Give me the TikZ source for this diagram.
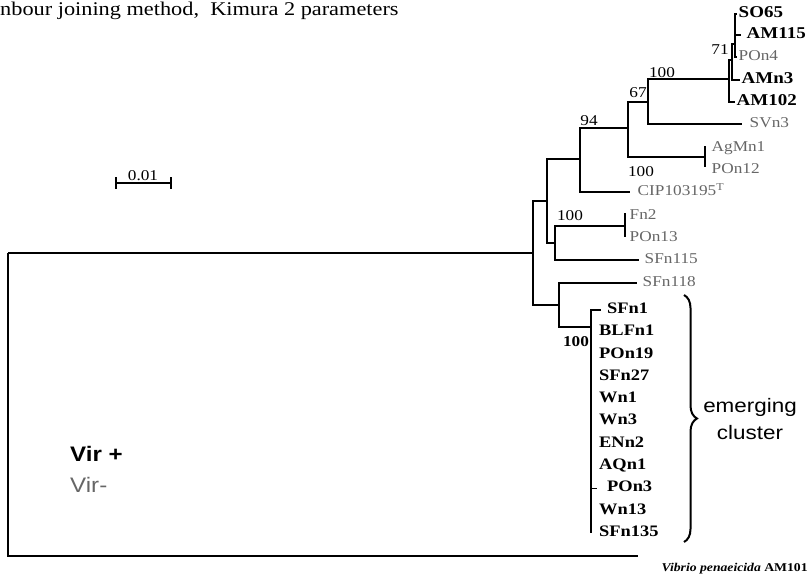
\documentclass[tikz,border=0pt]{standalone}
\usepackage{fontspec}
\setmainfont{Liberation Serif}[FakeStretch=1.15]
\setsansfont{Liberation Sans}[FakeStretch=1.15]
\usetikzlibrary{decorations.pathreplacing}
\colorlet{virneg}{black!60}

\begin{document}
\begin{tikzpicture}[x=1pt,y=-1pt,
  br/.style={line width=1.5pt},
  leaf/.style={anchor=west,inner sep=1.5pt,text height=0.68em,text depth=0pt,font=\fontsize{15}{17}\selectfont,text=virneg},
  vpos/.style={leaf,text=black,font=\fontsize{16}{18}\selectfont\bfseries},
  vtop/.style={vpos,font=\fontsize{16.5}{18}\selectfont\bfseries},
  boot/.style={inner sep=0pt,font=\fontsize{15}{17}\selectfont}]
\useasboundingbox (0,0) rectangle (808,578);
% --- title and scale ---
\node[anchor=west,inner sep=0pt,font=\fontsize{19.4}{22}\selectfont] (title) at (0,11) {nbour joining method,\ \ Kimura 2 parameters};
\coordinate (sbL) at (116,183);
\coordinate (sbR) at (171,183);
\draw[line width=1.3pt] (sbL) -- (sbR);
\draw[line width=1.3pt] ([yshift=6pt]sbL) -- ([yshift=-6pt]sbL);
\draw[line width=1.3pt] ([yshift=6pt]sbR) -- ([yshift=-6pt]sbR);
\node[boot] (sbt) at (143,175.5) {0.01};
% --- inner nodes ---
\coordinate (root) at (8,253);
\coordinate (n533) at (533,253);
\coordinate (n547) at (547,201);
\coordinate (n580) at (580,159);
\coordinate (n628) at (628,128);
\coordinate (n648) at (648,102);
\coordinate (n729) at (729,79);
\coordinate (n732) at (732,60);
\coordinate (n735) at (735,44);
\coordinate (n555) at (555,243);
\coordinate (n559) at (559,305);
\coordinate (n591) at (591,327);
\coordinate (agm) at (705,157);
\coordinate (fnt) at (625,226);
\coordinate (vpend) at (638,556);
% --- leaves ---
\node[vtop] (so65)  at (737,14)  {SO65};
\node[vtop] (am115) at (745,35)  {AM115};
\node[leaf] (pon4)  at (737,57)  {POn4};
\node[vtop] (amn3)  at (740,80)  {AMn3};
\node[vtop] (am102) at (735,102) {AM102};
\node[leaf] (svn3)  at (748,124) {SVn3};
\node[leaf] (agmn1) at (710,148) {AgMn1};
\node[leaf] (pon12) at (710,170) {POn12};
\node[leaf] (cip)   at (636,192) {CIP103195\textsuperscript{T}};
\node[leaf] (fn2)   at (628,216) {Fn2};
\node[leaf] (pon13) at (628,238) {POn13};
\node[leaf] (sfn115) at (643,260) {SFn115};
\node[leaf] (sfn118) at (641,283) {SFn118};
\foreach \nm/\dx [count=\i from 0] in {SFn1/8,BLFn1/0,POn19/0,SFn27/0,Wn1/0,Wn3/0,ENn2/0,AQn1/0,POn3/8,Wn13/0,SFn135/0}
  \node[vpos] (c\i) at (597.5+\dx,310+22.3*\i) {\nm};
\node[vpos,font=\fontsize{11.9}{14}\selectfont\bfseries] (vp) at (660,568) {\textit{Vibrio penaeicida} AM101};
% --- branches ---
\draw[br,line width=1.7pt] (root) -- (n533);
\draw[br,line width=1.7pt] (root) |- (vpend);
\draw[br] (n533) |- (n547);
\draw[br] (n533) |- (n559);
\draw[br] (n547) |- (n580);
\draw[br] (n547) |- (n555);
\draw[br] (n580) |- (n628);
\draw[br] (n580) |- ([xshift=-6pt]cip.west);
\draw[br] (n628) |- (n648);
\draw[br] (n628) |- (agm);
\draw[br] ([yshift=11pt]agm) -- ([yshift=-10pt]agm);
\draw[br] (n648) |- (n729);
\draw[br] (n648) |- ([xshift=-6pt]svn3.west);
\draw[br] (n729) |- (n732);
\draw[br] (n729) |- (am102.west);
\draw[br] (n732) |- (n735);
\draw[br] (n732) |- (amn3.west);
\draw[br] (n735) |- (so65.west);
\draw[br] (n735) |- ([xshift=-4pt]am115.west);
\draw[br] (n735) |- (pon4.west);
\draw[br] (n555) |- (fnt);
\draw[br] ([yshift=13pt]fnt) -- ([yshift=-11pt]fnt);
\draw[br] (n555) |- ([xshift=-4pt]sfn115.west);
\draw[br] (n559) |- ([xshift=-4pt]sfn118.west);
\draw[br] (n559) |- (n591);
\draw[br] (n591) |- ([xshift=-5pt]c0.west);
\draw[br] (n591) |- ([xshift=-9pt]c8.west);
\draw[br] (n591) -- (n591 |- c10.west);
% --- bootstrap values ---
\node[boot] (b94)  at (589,121) {94};
\node[boot] (b67)  at (638,93)  {67};
\node[boot] (b100a) at (662,73) {100};
\node[boot] (b71)  at (720,50)  {71};
\node[boot] (b100b) at (641,172) {100};
\node[boot] (b100c) at (570,216) {100};
\node[boot,font=\fontsize{15}{17}\selectfont\bfseries] (b100d) at (576,342) {100};
% --- cluster brace and legend ---
\coordinate (brT) at (684,295);
\coordinate (brB) at (684,542);
\draw[line width=2pt,decorate,decoration={brace,amplitude=13pt}] (brT) -- (brB);
\node[align=center,font=\sffamily\fontsize{19.5}{27}\selectfont] (emc) at (750,419) {emerging\\cluster};
\node[anchor=west,inner sep=1pt,font=\sffamily\bfseries\fontsize{21}{24}\selectfont] (virp) at (69,454) {Vir +};
\node[anchor=west,inner sep=1pt,font=\sffamily\fontsize{21}{24}\selectfont,text=virneg] (virn) at (69,485) {Vir-};
\end{tikzpicture}
\end{document}
